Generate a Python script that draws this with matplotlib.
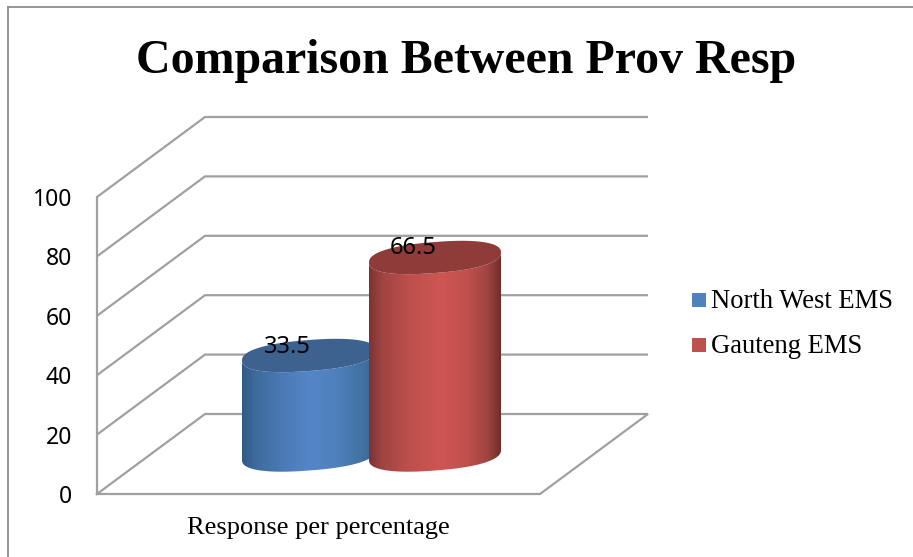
import numpy as np
import matplotlib.pyplot as plt
from matplotlib.colors import LinearSegmentedColormap
from matplotlib.patches import Polygon, Rectangle

title = 'Comparison Between Prov Resp'
category = 'Response per percentage'
series_names = ['North West EMS', 'Gauteng EMS']
series_values = [33.5, 66.5]
y_ticks = [0, 20, 40, 60, 80, 100]

W, H = 913, 557
GRID = '#a0a0a0'
SERIF = 'Liberation Serif'
SANS = 'Noto Sans'

# 3d box, in pixels
front_x, back_x = 97, 205
front_right, back_right = 540, 648
front_y0, back_y0 = 494, 414
unit = 2.97

# cylinder styles: centre x, half width, side gradient, top colour, legend colour
centers = [309, 435]
half_w = [67, 66]
base_y = 455
sides = [
    [(0, '#2f5a88'), (.1, '#3f6a9c'), (.3, '#4a7ab5'), (.5, '#5486c8'),
     (.7, '#4f81bd'), (.92, '#41709f'), (1, '#345f8c')],
    [(0, '#7c3432'), (.1, '#a04442'), (.3, '#bd4f4c'), (.55, '#cf5653'),
     (.75, '#bf4f4c'), (.9, '#a04441'), (1, '#6e2e2c')],
]
tops = ['#3d6290', '#8e3b39']
swatches = ['#4f81bd', '#c0504d']


def val_y(v, back=False):
    return (back_y0 if back else front_y0) - v * unit


def rim(cx, cy, a, t):
    # tilted, slightly squared ellipse used for cylinder ends
    c, s = np.cos(t), np.sin(t)
    c = np.sign(c) * np.abs(c) ** 0.85
    s = np.sign(s) * np.abs(s) ** 0.85
    return cx + a * c, cy + 15.5 * s - 5 * c


def cylinder(ax, cx, a, value, side, top):
    y_top = base_y - value * unit
    t_low = np.linspace(0, np.pi, 80)
    xb, yb = rim(cx, base_y, a, t_low)
    xs, ys = rim(cx, y_top, a, t_low[::-1])
    # side wall outline: lower rim then back along the top edge
    body = Polygon(np.column_stack([np.r_[xb, xs], np.r_[yb, ys]]), closed=True,
                   fc='none', ec='none', zorder=3)
    ax.add_patch(body)
    cmap = LinearSegmentedColormap.from_list('side', side)
    im = ax.imshow(np.linspace(0, 1, 256)[None, :], cmap=cmap, aspect='auto',
                   extent=[cx - a, cx + a, base_y + 25, y_top - 25], zorder=3)
    im.set_clip_path(body)
    t = np.linspace(0, 2 * np.pi, 160)
    xe, ye = rim(cx, y_top, a, t)
    ax.add_patch(Polygon(np.column_stack([xe, ye]), closed=True, fc=top, ec='none', zorder=3))


fig = plt.figure(figsize=(W / 100, H / 100), dpi=100)
ax = fig.add_axes([0, 0, 1, 1])

# outer chart border
ax.plot([8, 8], [H, 7], color='#8c8c8c', lw=1.3)
ax.plot([8, 913], [7, 7], color='#8c8c8c', lw=1.3)

# walls and gridlines
for v in y_ticks:
    if v == 0:
        continue
    ax.plot([front_x, back_x, back_right], [val_y(v), val_y(v, True), val_y(v, True)],
            color=GRID, lw=1.6, solid_joinstyle='miter', solid_capstyle='butt', zorder=1)
ax.plot([front_x, back_x, back_right, front_right, front_x],
        [front_y0, back_y0, back_y0, front_y0, front_y0],
        color=GRID, lw=1.6, solid_joinstyle='miter', zorder=1)
ax.plot([front_x, front_x], [val_y(0), val_y(100)], color=GRID, lw=1.6, zorder=1)

for cx, a, v, side, top in zip(centers, half_w, series_values, sides, tops):
    cylinder(ax, cx, a, v, side, top)

# value labels sit on top of both cylinders
for cx, v in zip(centers, series_values):
    ax.text(cx - 22, base_y - v * unit - 9, str(v), family=SANS,
            fontsize=17, color='black', ha='center', va='center', zorder=5)

for v in y_ticks:
    ax.text(72, val_y(v) + 3, str(v), family=SANS, fontsize=16.5, color='black',
            ha='right', va='center')

ax.text(466, 73, title, family=SERIF, weight='bold', fontsize=34.5, color='black',
        ha='center', va='baseline')
ax.text(318, 534, category, family=SERIF, fontsize=19, color='black',
        ha='center', va='baseline')

# legend
for name, color, y in zip(series_names, swatches, [300, 345]):
    ax.add_patch(Rectangle((692, y - 7), 14, 14, fc=color, ec='none'))
    ax.text(711, y + 8, name, family=SERIF, fontsize=19.2, color='black', va='baseline')

ax.set_xlim(0, W)
ax.set_ylim(H, 0)
ax.axis('off')
fig.savefig('out.png', dpi=100, facecolor='white')
